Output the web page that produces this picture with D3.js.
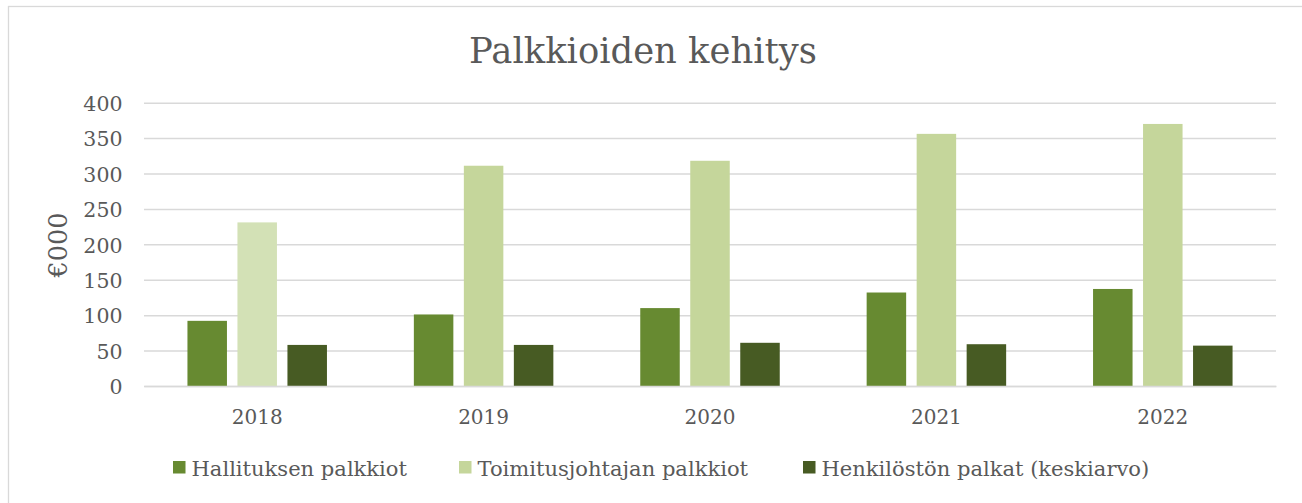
<!DOCTYPE html>
<html>
<head>
<meta charset="utf-8">
<script src="https://cdn.jsdelivr.net/npm/d3@7"></script>
<style>
  html, body { margin: 0; padding: 0; background: #ffffff; }
  svg { display: block; }
  text { font-family: "DejaVu Serif", "Liberation Serif", serif; fill: #595959; }
</style>
</head>
<body>
<svg id="chart" width="1302" height="503"></svg>
<script>
// ---- data ----
const title = "Palkkioiden kehitys";
const yAxisTitle = "€000";
const years = ["2018", "2019", "2020", "2021", "2022"];
const seriesNames = ["Hallituksen palkkiot", "Toimitusjohtajan palkkiot", "Henkilöstön palkat (keskiarvo)"];
const hallitus = [92, 101, 110, 132, 137];
const toimitusjohtaja = [231, 311, 318, 356, 370];
const henkilosto = [58, 58, 61, 59, 57];
const yTicks = [0, 50, 100, 150, 200, 250, 300, 350, 400];

const seriesColors = ["#678a31", "#c5d69b", "#475b23"];
const pointColorOverride = { "1-0": "#d3e1b6" }; // lighter 2018 CEO bar

const series = [hallitus, toimitusjohtaja, henkilosto];

// ---- layout ----
const svg = d3.select("#chart");
const plot = { left: 144, right: 1276, top: 102.7, bottom: 386 };

svg.append("rect")
  .attr("x", 8.5).attr("y", 6.5)
  .attr("width", 1320).attr("height", 520)
  .attr("fill", "#ffffff").attr("stroke", "#d9d9d9").attr("stroke-width", 1.3);

const x = d3.scaleBand().domain(years).range([plot.left, plot.right]).paddingInner(0).paddingOuter(0);
const xs = d3.scaleBand().domain(d3.range(series.length)).range([0, x.bandwidth()])
  .paddingInner(0.21).paddingOuter(0.869);
const y = d3.scaleLinear().domain([0, 400]).range([plot.bottom, plot.top]);

// gridlines
const yAxis = d3.axisLeft(y).tickValues(yTicks).tickSize(-(plot.right - plot.left)).tickPadding(22).tickFormat(d3.format("d"));
const gy = svg.append("g").attr("transform", `translate(${plot.left},0)`).call(yAxis);
gy.select(".domain").remove();
gy.selectAll(".tick line").attr("stroke", "#d9d9d9").attr("stroke-width", 1.5);
gy.selectAll(".tick text").attr("font-size", 20.5).attr("fill", "#595959")
  .attr("dy", "0.38em").attr("x", -21.5)
  .style("font-family", '"DejaVu Serif", serif');

// bars
series.forEach((vals, si) => {
  svg.append("g").selectAll("rect").data(vals).join("rect")
    .attr("x", (d, i) => x(years[i]) + xs(si))
    .attr("y", d => y(d))
    .attr("width", xs.bandwidth())
    .attr("height", d => y(0) - y(d))
    .attr("fill", (d, i) => pointColorOverride[`${si}-${i}`] || seriesColors[si]);
});

// x axis
const xAxis = d3.axisBottom(x).tickSize(0).tickPadding(0);
const gx = svg.append("g").attr("transform", `translate(0,${plot.bottom})`).call(xAxis);
gx.select(".domain").attr("stroke", "#d9d9d9").attr("stroke-width", 1.5);
gx.selectAll(".tick text").attr("font-size", 20).attr("fill", "#595959")
  .attr("dy", null).attr("y", 38)
  .style("font-family", '"DejaVu Serif", serif');

// title
function fitText(sel, target) {
  const w = sel.node().getComputedTextLength();
  const fs = parseFloat(sel.attr("font-size"));
  sel.attr("font-size", fs * target / w);
}
const t = svg.append("text").attr("x", 643).attr("y", 63)
  .attr("text-anchor", "middle").attr("font-size", 30).text(title);
fitText(t, 348);

// y axis title
svg.append("text")
  .attr("transform", "translate(67,245) rotate(-90)")
  .attr("text-anchor", "middle").attr("font-size", 25.5).text(yAxisTitle);

// legend
const legendSquareX = [173, 459, 803];
const legendTextWidth = [214, 273, 327];
const lg = svg.append("g");
const items = lg.selectAll("g").data(seriesNames).join("g");
items.append("rect")
  .attr("x", (d, i) => legendSquareX[i]).attr("y", 461)
  .attr("width", 12.5).attr("height", 12.5)
  .attr("fill", (d, i) => seriesColors[i]);
const lt = items.append("text")
  .attr("x", (d, i) => legendSquareX[i] + 18.5).attr("y", 476)
  .attr("font-size", 20).text(d => d);
// common size fitted to the total legend text width
let total = 0; lt.each(function(){ total += this.getComputedTextLength(); });
const fsL = 20 * d3.sum(legendTextWidth) / total;
lt.attr("font-size", fsL);
</script>
</body>
</html>
